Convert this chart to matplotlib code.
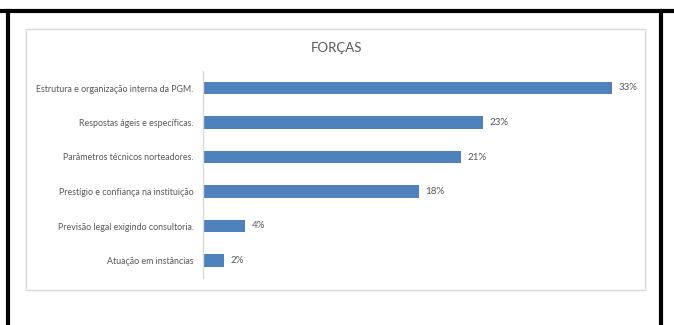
import matplotlib
matplotlib.use('Agg')
import matplotlib.pyplot as plt
from matplotlib.patches import Rectangle
from matplotlib.lines import Line2D

categories = ['Estrutura e organização interna da PGM.',
              'Respostas ágeis e específicas.',
              'Parâmetros técnicos norteadores.',
              'Prestígio e confiança na instituição',
              'Previsão legal exigindo consultoria.',
              'Atuação em instâncias']
values = [33.0, 22.6, 20.8, 17.4, 3.4, 1.7]
value_labels = ['33%', '23%', '21%', '18%', '4%', '2%']
title = 'FORÇAS'

plt.rcParams['font.family'] = ['Lato', 'DejaVu Sans']

W, H = 674, 325
fig = plt.figure(figsize=(W / 100, H / 100), dpi=100)
fig.patch.set_facecolor('white')

# black frame of the screenshot
fig.add_artist(Line2D([0, 1], [1 - 11 / H, 1 - 11 / H], color='black', lw=3.0))
fig.add_artist(Line2D([8 / W, 8 / W], [0, 1 - 11 / H], color='black', lw=3.0))
fig.add_artist(Line2D([661 / W, 661 / W], [0, 1 - 11 / H], color='black', lw=3.0))

# gray chart box
fig.add_artist(Rectangle((26 / W, 1 - 290 / H), (645 - 26) / W, (290 - 29) / H,
                         transform=fig.transFigure, fill=False,
                         edgecolor='#d9d9d9', lw=1.0))

xmax = 35
px_per_unit = 12.41
ax_left = 202.7
ax_top = 70.75
ax_bottom = 277.75
ax = fig.add_axes([ax_left / W, 1 - ax_bottom / H,
                   xmax * px_per_unit / W, (ax_bottom - ax_top) / H])

y = list(range(len(categories)))
ax.barh(y, values, height=0.35, color='#4f81bd')
for yi, v, lab in zip(y, values, value_labels):
    ax.text(v + 0.55, yi, lab, va='center', ha='left', fontsize=7, color='#595959')

ax.set_yticks(y)
ax.set_yticklabels(categories, fontsize=6.4, color='#595959')
ax.set_ylim(len(categories) - 0.5, -0.5)
ax.set_xlim(0, xmax)
ax.set_xticks([])
ax.tick_params(axis='y', length=0, pad=6.5)
for s in ['top', 'right', 'bottom']:
    ax.spines[s].set_visible(False)
ax.spines['left'].set_color('#d9d9d9')
ax.spines['left'].set_linewidth(1.0)

fig.text(336 / W, 1 - 48 / H, title, ha='center', va='center',
         fontsize=9.5, color='#595959')

fig.savefig('out.png', dpi=100)
